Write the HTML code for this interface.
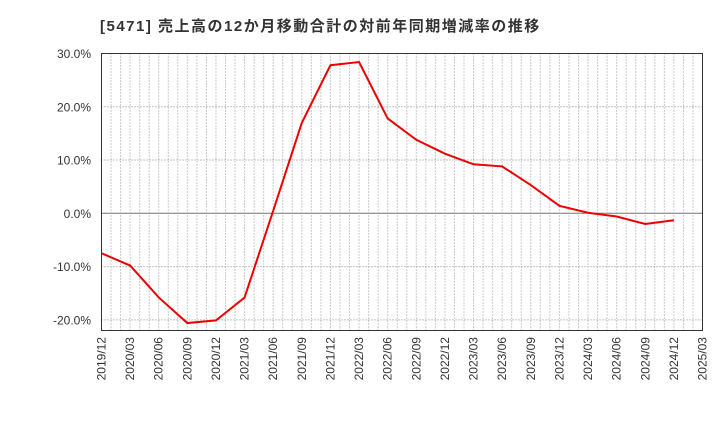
<!DOCTYPE html>
<html><head><meta charset="utf-8"><style>
body{margin:0;background:#fff;font-family:"Liberation Sans","Noto Sans CJK JP",sans-serif}
</style></head><body>
<svg id="chart" width="720" height="440" xmlns="http://www.w3.org/2000/svg">
<text x="100" y="31" font-size="15" font-weight="bold" letter-spacing="1.5" fill="#333">[5471]  売上高の12か月移動合計の対前年同期増減率の推移</text>
<g id="grid"></g>
<g id="axes"></g>
<polyline id="line" fill="none" stroke="#e00" stroke-width="2"/>
<rect x="101.5" y="53.5" width="601" height="277" fill="none" stroke="#333"/>
</svg>
<script>
var categories=["2019/12","2020/03","2020/06","2020/09","2020/12","2021/03","2021/06","2021/09","2021/12","2022/03","2022/06","2022/09","2022/12","2023/03","2023/06","2023/09","2023/12","2024/03","2024/06","2024/09","2024/12","2025/03"];
var values=[-7.5,-9.8,-15.8,-20.6,-20.1,-15.8,0.5,17.0,27.8,28.4,17.8,13.8,11.2,9.2,8.8,5.3,1.4,0.1,-0.6,-2.0,-1.3];
var yTicks=[30,20,10,0,-10,-20];
var L=101.5,R=702.5,T=53.5,B=330.5,yMax=30,yMin=-22;
function xs(i){return L+(R-L)*i/(categories.length-1);}
function ys(v){return T+(yMax-v)/(yMax-yMin)*(B-T);}
var ns="http://www.w3.org/2000/svg";
var g=document.getElementById('grid'),a=document.getElementById('axes');
var months=(categories.length-1)*3;
for(var m=1;m<months;m++){var xx=L+(R-L)*m/months;var l=document.createElementNS(ns,'line');
l.setAttribute('x1',xx);l.setAttribute('x2',xx);l.setAttribute('y1',T);l.setAttribute('y2',B);
l.setAttribute('stroke','#999');l.setAttribute('stroke-dasharray','1,2');

g.appendChild(l);}
yTicks.forEach(function(v){var l=document.createElementNS(ns,'line');
l.setAttribute('x1',L);l.setAttribute('x2',R);l.setAttribute('y1',ys(v));l.setAttribute('y2',ys(v));
l.setAttribute('stroke',v===0?'#777':'#888');if(v!==0)l.setAttribute('stroke-dasharray','1,2');

g.appendChild(l);
var t=document.createElementNS(ns,'text');t.setAttribute('x',91);t.setAttribute('y',ys(v)+4.5);
t.setAttribute('text-anchor','end');t.setAttribute('font-size','12');t.setAttribute('fill','#333');
t.textContent=v.toFixed(1)+'%';

a.appendChild(t);});
categories.forEach(function(c,i){var t=document.createElementNS(ns,'text');var xx=xs(i)+4;
t.setAttribute('transform','translate('+xx+',337) rotate(-90)');t.setAttribute('text-anchor','end');
t.setAttribute('font-size','12');t.setAttribute('fill','#333');t.textContent=c;

a.appendChild(t);});
document.getElementById('line').setAttribute('points',values.map(function(v,i){return xs(i)+','+ys(v);}).join(' '));
</script>
</body></html>
